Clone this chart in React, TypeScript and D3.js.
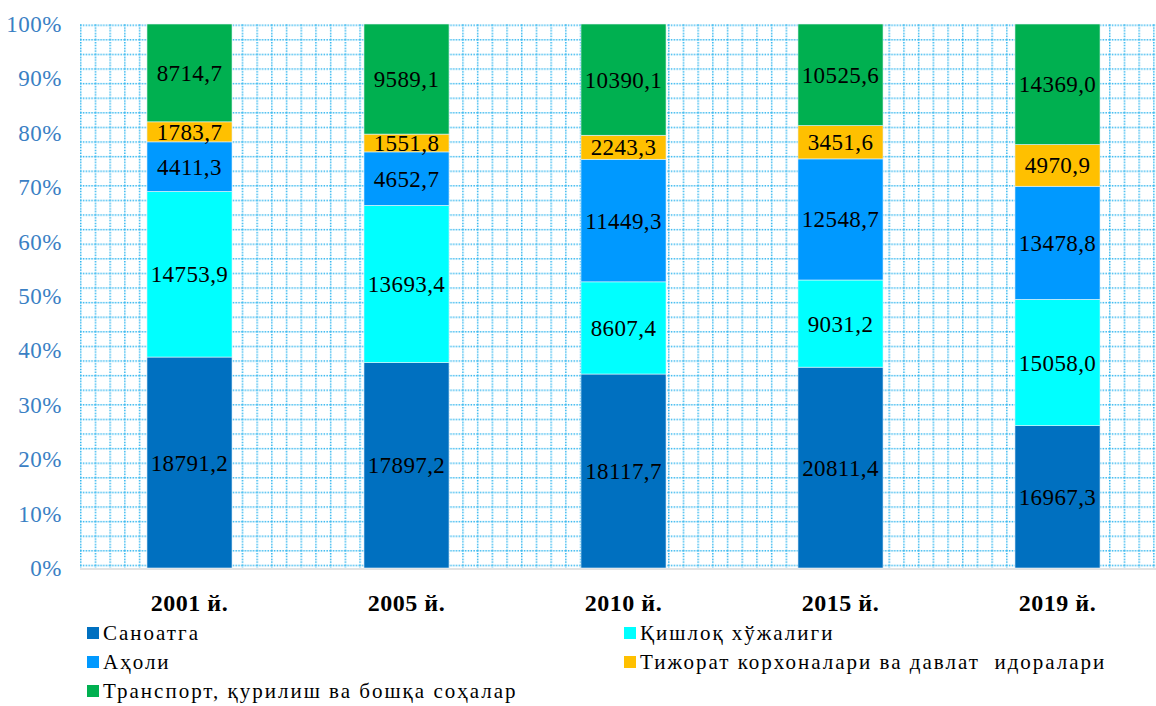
import * as d3 from 'd3';
import React, { useEffect, useRef } from 'react';

const years = ['2001 й.', '2005 й.', '2010 й.', '2015 й.', '2019 й.'];
const seriesNames = [
  'Саноатга',
  'Қишлоқ хўжалиги',
  'Аҳоли',
  'Тижорат корхоналари ва давлат  идоралари',
  'Транспорт, қурилиш ва бошқа соҳалар',
];
const seriesColors = ['#0070C0', '#00FFFF', '#0099FF', '#FFC000', '#00B050'];

const sanoat = [18791.2, 17897.2, 18117.7, 20811.4, 16967.3];
const qishloq = [14753.9, 13693.4, 8607.4, 9031.2, 15058.0];
const aholi = [4411.3, 4652.7, 11449.3, 12548.7, 13478.8];
const tijorat = [1783.7, 1551.8, 2243.3, 3451.6, 4970.9];
const transport = [8714.7, 9589.1, 10390.1, 10525.6, 14369.0];

const yTicks = [0, 0.1, 0.2, 0.3, 0.4, 0.5, 0.6, 0.7, 0.8, 0.9, 1];

const W = 1156;
const H = 706;
const margin = { top: 24, left: 81, bottom: 568, right: 1166 };
const SERIF = "'Liberation Serif', 'Times New Roman', serif";

const fmt = (v: number) => v.toFixed(1).replace('.', ',');

const App = () => {
  const ref = useRef<SVGSVGElement>(null);

  useEffect(() => {
    const svg = d3.select(ref.current);
    svg.selectAll('*').remove();

    const allSeries = [sanoat, qishloq, aholi, tijorat, transport];
    const rows = years.map((y, i) => {
      const r: any = { year: y };
      seriesNames.forEach((s, k) => { r[s] = allSeries[k][i]; });
      return r;
    });

    const stack = d3.stack().keys(seriesNames).offset(d3.stackOffsetExpand);
    const layers = stack(rows);

    const x = d3.scaleBand().domain(years).range([margin.left, margin.right])
      .paddingInner(0.608).paddingOuter(0.304);
    const y = d3.scaleLinear().domain([0, 1]).range([margin.bottom, margin.top]);

    // dotted background grid
    const defs = svg.append('defs');
    const pat = defs.append('pattern')
      .attr('id', 'dotgrid')
      .attr('patternUnits', 'userSpaceOnUse')
      .attr('x', 80).attr('y', 24.5)
      .attr('width', 14.7).attr('height', 14.6);
    pat.append('line').attr('x1', 0).attr('x2', 14.7).attr('y1', 0.75).attr('y2', 0.75)
      .attr('stroke', '#2FB5EE').attr('stroke-width', 1.5).attr('stroke-dasharray', '1.5 1.3');
    pat.append('line').attr('x1', 0.75).attr('x2', 0.75).attr('y1', 0).attr('y2', 14.6)
      .attr('stroke', '#2FB5EE').attr('stroke-width', 1.5).attr('stroke-dasharray', '1.5 1.3');

    svg.append('rect')
      .attr('x', 80).attr('y', 24)
      .attr('width', W - 80).attr('height', margin.bottom - 24)
      .attr('fill', 'url(#dotgrid)');

    // x axis line
    svg.append('line')
      .attr('x1', 80).attr('x2', W)
      .attr('y1', margin.bottom + 1).attr('y2', margin.bottom + 1)
      .attr('stroke', '#d9d9d9').attr('stroke-width', 1.5);

    // y tick labels
    svg.append('g').selectAll('text').data(yTicks).join('text')
      .attr('x', 62)
      .attr('y', d => y(d))
      .attr('dy', '0.35em')
      .attr('text-anchor', 'end')
      .attr('fill', '#3A80C4')
      .style('font-family', SERIF)
      .style('font-size', '23px')
      .style('letter-spacing', '0.5px')
      .text(d => `${Math.round(d * 100)}%`);

    // bars
    const g = svg.append('g');
    layers.forEach((layer, k) => {
      const lg = g.append('g');
      lg.selectAll('rect').data(layer).join('rect')
        .attr('x', d => x(d.data.year as string)!)
        .attr('y', d => y(d[1]))
        .attr('width', x.bandwidth())
        .attr('height', d => y(d[0]) - y(d[1]))
        .attr('fill', seriesColors[k])
        .attr('stroke', '#e6f4fb')
        .attr('stroke-width', 0.6);
      lg.selectAll('text').data(layer).join('text')
        .attr('x', d => x(d.data.year as string)! + x.bandwidth() / 2)
        .attr('y', d => (y(d[0]) + y(d[1])) / 2)
        .attr('dy', '0.35em')
        .attr('text-anchor', 'middle')
        .attr('fill', '#000')
        .style('font-family', SERIF)
        .style('font-size', '23px')
        .style('letter-spacing', '0.4px')
        .text(d => fmt(d.data[layer.key] as number));
    });

    // x labels
    svg.append('g').selectAll('text').data(years).join('text')
      .attr('x', d => x(d)! + x.bandwidth() / 2)
      .attr('y', 611)
      .attr('text-anchor', 'middle')
      .attr('fill', '#000')
      .style('font-family', SERIF)
      .style('font-size', '24px')
      .style('font-weight', 'bold')
      .style('letter-spacing', '0.5px')
      .text(d => d);

    // legend
    const legendPos = [
      [87, 633], [624, 633], [87, 662], [624, 662], [87, 691],
    ];
    const lgd = svg.append('g');
    seriesNames.forEach((s, k) => {
      const [lx, ly] = legendPos[k];
      lgd.append('rect').attr('x', lx).attr('y', ly - 6).attr('width', 12).attr('height', 12)
        .attr('fill', seriesColors[k]);
      lgd.append('text').attr('x', lx + 16).attr('y', ly).attr('dy', '0.35em')
        .attr('fill', '#000')
        .style('font-family', SERIF)
        .style('font-size', '21px')
        .style('letter-spacing', '2px')
        .style('white-space', 'pre')
        .text(s);
    });
  }, []);

  return (
    <div style={{ position: 'fixed', left: 0, top: 0, width: W, height: H, background: '#fff' }}>
      <svg ref={ref} width={W} height={H} />
    </div>
  );
};

export default App;
